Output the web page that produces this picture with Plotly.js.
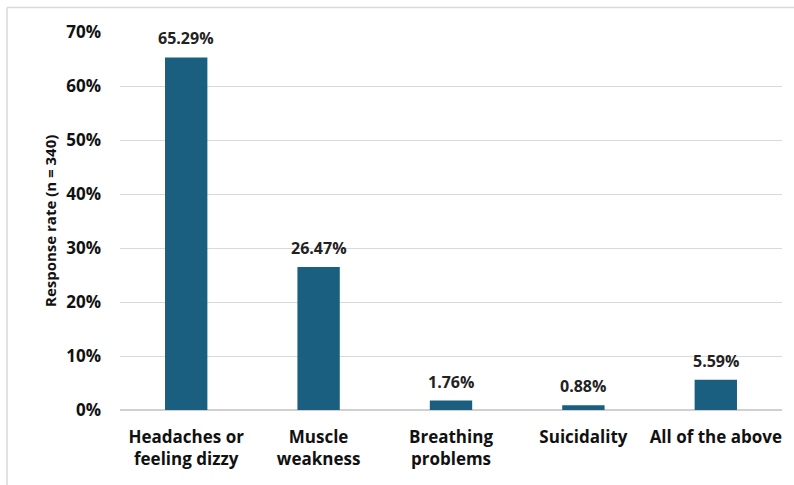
<!DOCTYPE html>
<html><head><meta charset="utf-8">
<script src="https://cdn.plot.ly/plotly-3.0.1.min.js"></script>
<style>body{margin:0;background:#fff}#c{width:794px;height:485px}</style>
</head><body><div id="c"></div>
<script>
const categories = ["Headaches or<br>feeling dizzy", "Muscle<br>weakness", "Breathing<br>problems", "Suicidality", "All of the above"];
const values = [65.29, 26.47, 1.76, 0.88, 5.59];
const labels = ["65.29%", "26.47%", "1.76%", "0.88%", "5.59%"];
const yTicks = [0, 10, 20, 30, 40, 50, 60, 70];
const yTickText = ["0%", "10%", "20%", "30%", "40%", "50%", "60%", "70%"];

const font = "Open Sans, Liberation Sans, sans-serif";
const annotations = categories.map((c, i) => ({
  x: c, y: values[i], xref: "x", yref: "y", text: labels[i],
  showarrow: false, yanchor: "bottom", yshift: 6,
  font: {family: font, size: 16, color: "#222", weight: "bold"}
}));
annotations.push({
  xref: "paper", yref: "paper", x: -0.1057, y: 0.5, xanchor: "center", yanchor: "middle",
  text: "Response rate (n = 340)", textangle: -90, showarrow: false,
  font: {family: font, size: 15, color: "#111", weight: "bold"}
});

Plotly.newPlot("c", [{
  type: "bar",
  x: categories,
  y: values,
  marker: {color: "#1a5f80"},
  width: 0.32,
  hoverinfo: "none"
}], {
  width: 794, height: 485,
  margin: {l: 120, r: 12, t: 32, b: 75},
  paper_bgcolor: "#fff", plot_bgcolor: "#fff",
  showlegend: false,
  annotations: annotations,
  xaxis: {
    showgrid: false, zeroline: false, showline: false, ticks: "",
    tickfont: {family: font, size: 17, color: "#111", weight: "bold"},
    ticklabelstandoff: 15
  },
  yaxis: {
    range: [0, 70], tickvals: yTicks, ticktext: yTickText,
    showgrid: true, gridcolor: "#d9d9d9", gridwidth: 1,
    zeroline: true, zerolinecolor: "#d0d0d0", zerolinewidth: 1.5,
    showline: false, ticks: "",
    tickfont: {family: font, size: 17, color: "#111", weight: "bold"},
    ticklabelstandoff: 18
  },
  shapes: [
    {type: "line", xref: "paper", yref: "paper", x0: -0.1707, x1: -0.1707, y0: -0.2, y1: 1.065, line: {color: "#d9d9d9", width: 1.5}},
    {type: "line", xref: "paper", yref: "paper", x0: -0.1707, x1: 1.02, y0: 1.065, y1: 1.065, line: {color: "#d9d9d9", width: 1.5}}
  ]
}, {displayModeBar: false, staticPlot: true});
</script></body></html>
